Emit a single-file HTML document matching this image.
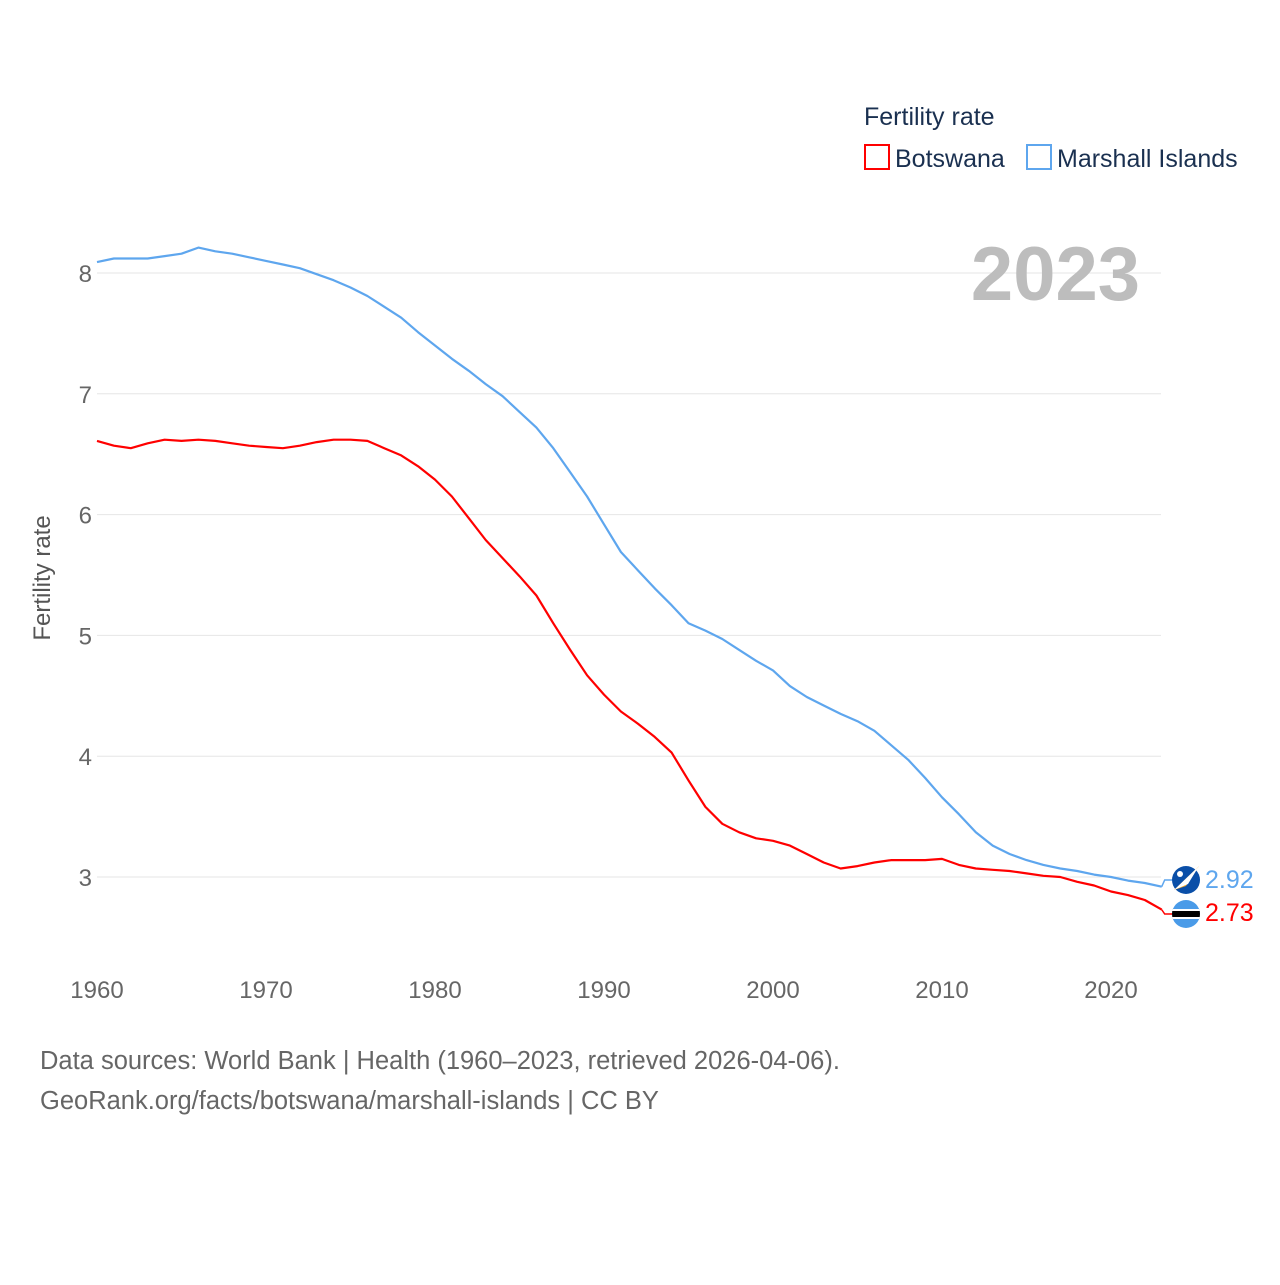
<!DOCTYPE html>
<html><head><meta charset="utf-8"><style>
html,body{margin:0;padding:0;background:#fff;}
svg text{font-family:"Liberation Sans",sans-serif;}
</style></head><body>
<svg id="chart" width="1280" height="1280" xmlns="http://www.w3.org/2000/svg">
<g id="grid"></g>
<g id="yticks"></g>
<g id="xticks"></g>
<text x="1140" y="300" text-anchor="end" font-size="76" font-weight="bold" fill="#bdbdbd">2023</text>
<text transform="translate(50,578) rotate(-90)" text-anchor="middle" font-size="24" fill="#555">Fertility rate</text>
<g id="series"></g>
<g>
<text x="864" y="125" font-size="25" fill="#1a3050">Fertility rate</text>
<rect x="865" y="145" width="24" height="24" fill="none" stroke="#f00" stroke-width="2"/>
<text x="895" y="167" font-size="25" fill="#1a3050">Botswana</text>
<rect x="1027" y="145" width="24" height="24" fill="none" stroke="#5ea6ee" stroke-width="2"/>
<text x="1057" y="167" font-size="25" fill="#1a3050">Marshall Islands</text>
</g>
<g>
<circle cx="1186" cy="880" r="14" fill="#0a4fa8"/>
<path d="M1174 890 L1199 866 L1186 886 Z" fill="#f5a623"/>
<path d="M1174 890 L1199 866 L1188 884 Z" fill="#fff"/>
<circle cx="1180" cy="874" r="3" fill="#fff"/>
</g>
<g>
<clipPath id="bc"><circle cx="1186" cy="914" r="14"/></clipPath>
<g clip-path="url(#bc)">
<rect x="1172" y="900" width="28" height="28" fill="#4a9be8"/>
<rect x="1172" y="909" width="28" height="10" fill="#fff"/>
<rect x="1172" y="911" width="28" height="6" fill="#000"/>
</g>
</g>
<text id="lblM" x="1205" y="888" font-size="25" fill="#5ea6ee"></text>
<text id="lblB" x="1205" y="921" font-size="25" fill="#f00"></text>
<text x="40" y="1069" font-size="25.5" fill="#666">Data sources: World Bank | Health (1960–2023, retrieved 2026-04-06).</text>
<text x="40" y="1109" font-size="25.5" fill="#666">GeoRank.org/facts/botswana/marshall-islands | CC BY</text>
</svg>
<script>
const years=[];for(let y=1960;y<=2023;y++)years.push(y);
const botswana=[6.61,6.57,6.55,6.59,6.62,6.61,6.62,6.61,6.59,6.57,6.56,6.55,6.57,6.60,6.62,6.62,6.61,6.55,6.49,6.40,6.29,6.15,5.97,5.79,5.64,5.49,5.33,5.10,4.88,4.67,4.51,4.37,4.27,4.16,4.03,3.80,3.58,3.44,3.37,3.32,3.30,3.26,3.19,3.12,3.07,3.09,3.12,3.14,3.14,3.14,3.15,3.10,3.07,3.06,3.05,3.03,3.01,3.00,2.96,2.93,2.88,2.85,2.81,2.73];
const marshall=[8.09,8.12,8.12,8.12,8.14,8.16,8.21,8.18,8.16,8.13,8.10,8.07,8.04,7.99,7.94,7.88,7.81,7.72,7.63,7.51,7.40,7.29,7.19,7.08,6.98,6.85,6.72,6.55,6.35,6.15,5.92,5.69,5.54,5.39,5.25,5.10,5.04,4.97,4.88,4.79,4.71,4.58,4.49,4.42,4.35,4.29,4.21,4.09,3.97,3.82,3.66,3.52,3.37,3.26,3.19,3.14,3.10,3.07,3.05,3.02,3.00,2.97,2.95,2.92];
const yTicks=[3,4,5,6,7,8];
const xTicks=[1960,1970,1980,1990,2000,2010,2020];
const NS="http://www.w3.org/2000/svg";
const X=v=>97+(v-1960)*(1111-97)/60;
const Y=v=>877-(v-3)*(877-273)/5;
function mk(t,a,p){const e=document.createElementNS(NS,t);for(const k in a)e.setAttribute(k,a[k]);p.appendChild(e);return e;}
const grid=document.getElementById('grid'),yt=document.getElementById('yticks'),xt=document.getElementById('xticks'),ser=document.getElementById('series');
yTicks.forEach(v=>{
 const l=mk('line',{x1:97,x2:1161,y1:Y(v),y2:Y(v),stroke:'#e6e6e6','stroke-width':1},grid);
 
 
 const t=mk('text',{x:92,y:Y(v)+9,'text-anchor':'end','font-size':24,fill:'#666'},yt);
 t.textContent=v;
 
 
});
xTicks.forEach(v=>{
 const t=mk('text',{x:X(v),y:998,'text-anchor':'middle','font-size':24,fill:'#666'},xt);
 t.textContent=v;
 
 
});
function line(vals,color,name,labelY,lblId){
 let d=vals.map((v,i)=>(i?'L':'M')+X(years[i]).toFixed(1)+' '+Y(v).toFixed(1)).join(' ');
 const ex=X(years[years.length-1]),ey=Y(vals[vals.length-1]);
 const p=mk('path',{d:d,fill:'none',stroke:color,'stroke-width':2.2,'stroke-linejoin':'round'},ser);
 
 
 const c=mk('path',{d:`M${ex} ${ey} L${ex+3} ${labelY} L1172 ${labelY}`,fill:'none',stroke:color,'stroke-width':1.5},ser);
 
 
 document.getElementById(lblId).textContent=vals[vals.length-1].toFixed(2);
}
line(marshall,'#5ea6ee','line-marshall-islands',880,'lblM');
line(botswana,'#f00','line-botswana',914,'lblB');
</script>
</body></html>
